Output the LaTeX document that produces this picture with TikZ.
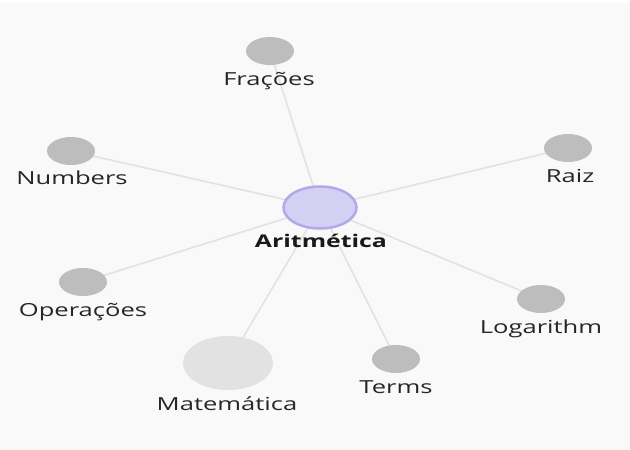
\documentclass[tikz,border=0pt]{standalone}
\usepackage{fontspec}
\setmainfont[FakeStretch=1.42]{Open Sans}
\usetikzlibrary{backgrounds,shapes.geometric}
\definecolor{bgc}{HTML}{F9F9F9}
\definecolor{edgec}{HTML}{E2E2E2}
\definecolor{leafc}{HTML}{BDBDBD}
\definecolor{rootfill}{HTML}{D4D0F4}
\definecolor{rootdraw}{HTML}{B2A9EC}
\definecolor{bigc}{HTML}{E2E2E2}
\definecolor{txtc}{HTML}{262626}
\tikzset{
  leaf/.style={ellipse, fill=leafc, minimum width=48pt, minimum height=28pt, inner sep=0pt},
  lbl/.style={anchor=base, text=txtc, font=\fontsize{18}{21}\selectfont, inner sep=0pt},
  link/.style={draw=edgec, line width=1.6pt}
}
\begin{document}
\begin{tikzpicture}[x=1pt,y=-1pt]
\useasboundingbox (0,0) rectangle (630,450);
\node[ellipse, fill=rootfill, draw=rootdraw, line width=2.5pt, minimum width=73pt, minimum height=42pt, inner sep=0pt] (ari) at (320,207.5) {};
\node[leaf] (fra) at (270,51) {};
\node[leaf] (num) at (71,151) {};
\node[leaf] (rai) at (568,148) {};
\node[leaf] (ope) at (83,282) {};
\node[leaf] (log) at (541,299) {};
\node[leaf] (ter) at (396,359) {};
\node[ellipse, fill=bigc, minimum width=90pt, minimum height=54pt, inner sep=0pt] (mat) at (228,363) {};
\node[lbl, font=\fontsize{17.5}{21}\selectfont\bfseries, text=black!90] (ariL) at (321,247) {Aritmética};
\node[lbl] (fraL) at (269,85) {Frações};
\node[lbl] (numL) at (72,184) {Numbers};
\node[lbl] (raiL) at (570,182) {Raiz};
\node[lbl] (opeL) at (83,316) {Operações};
\node[lbl] (logL) at (541,333) {Logarithm};
\node[lbl] (terL) at (396,393) {Terms};
\node[lbl] (matL) at (227,410) {Matemática};
\begin{pgfonlayer}{background}
\fill[bgc] (0,3) rectangle (630,450);
\foreach \t in {fra,num,rai,ope,log,ter,mat}
  \draw[link] (ari.center) -- (\t.center);
\end{pgfonlayer}
\end{tikzpicture}
\end{document}
